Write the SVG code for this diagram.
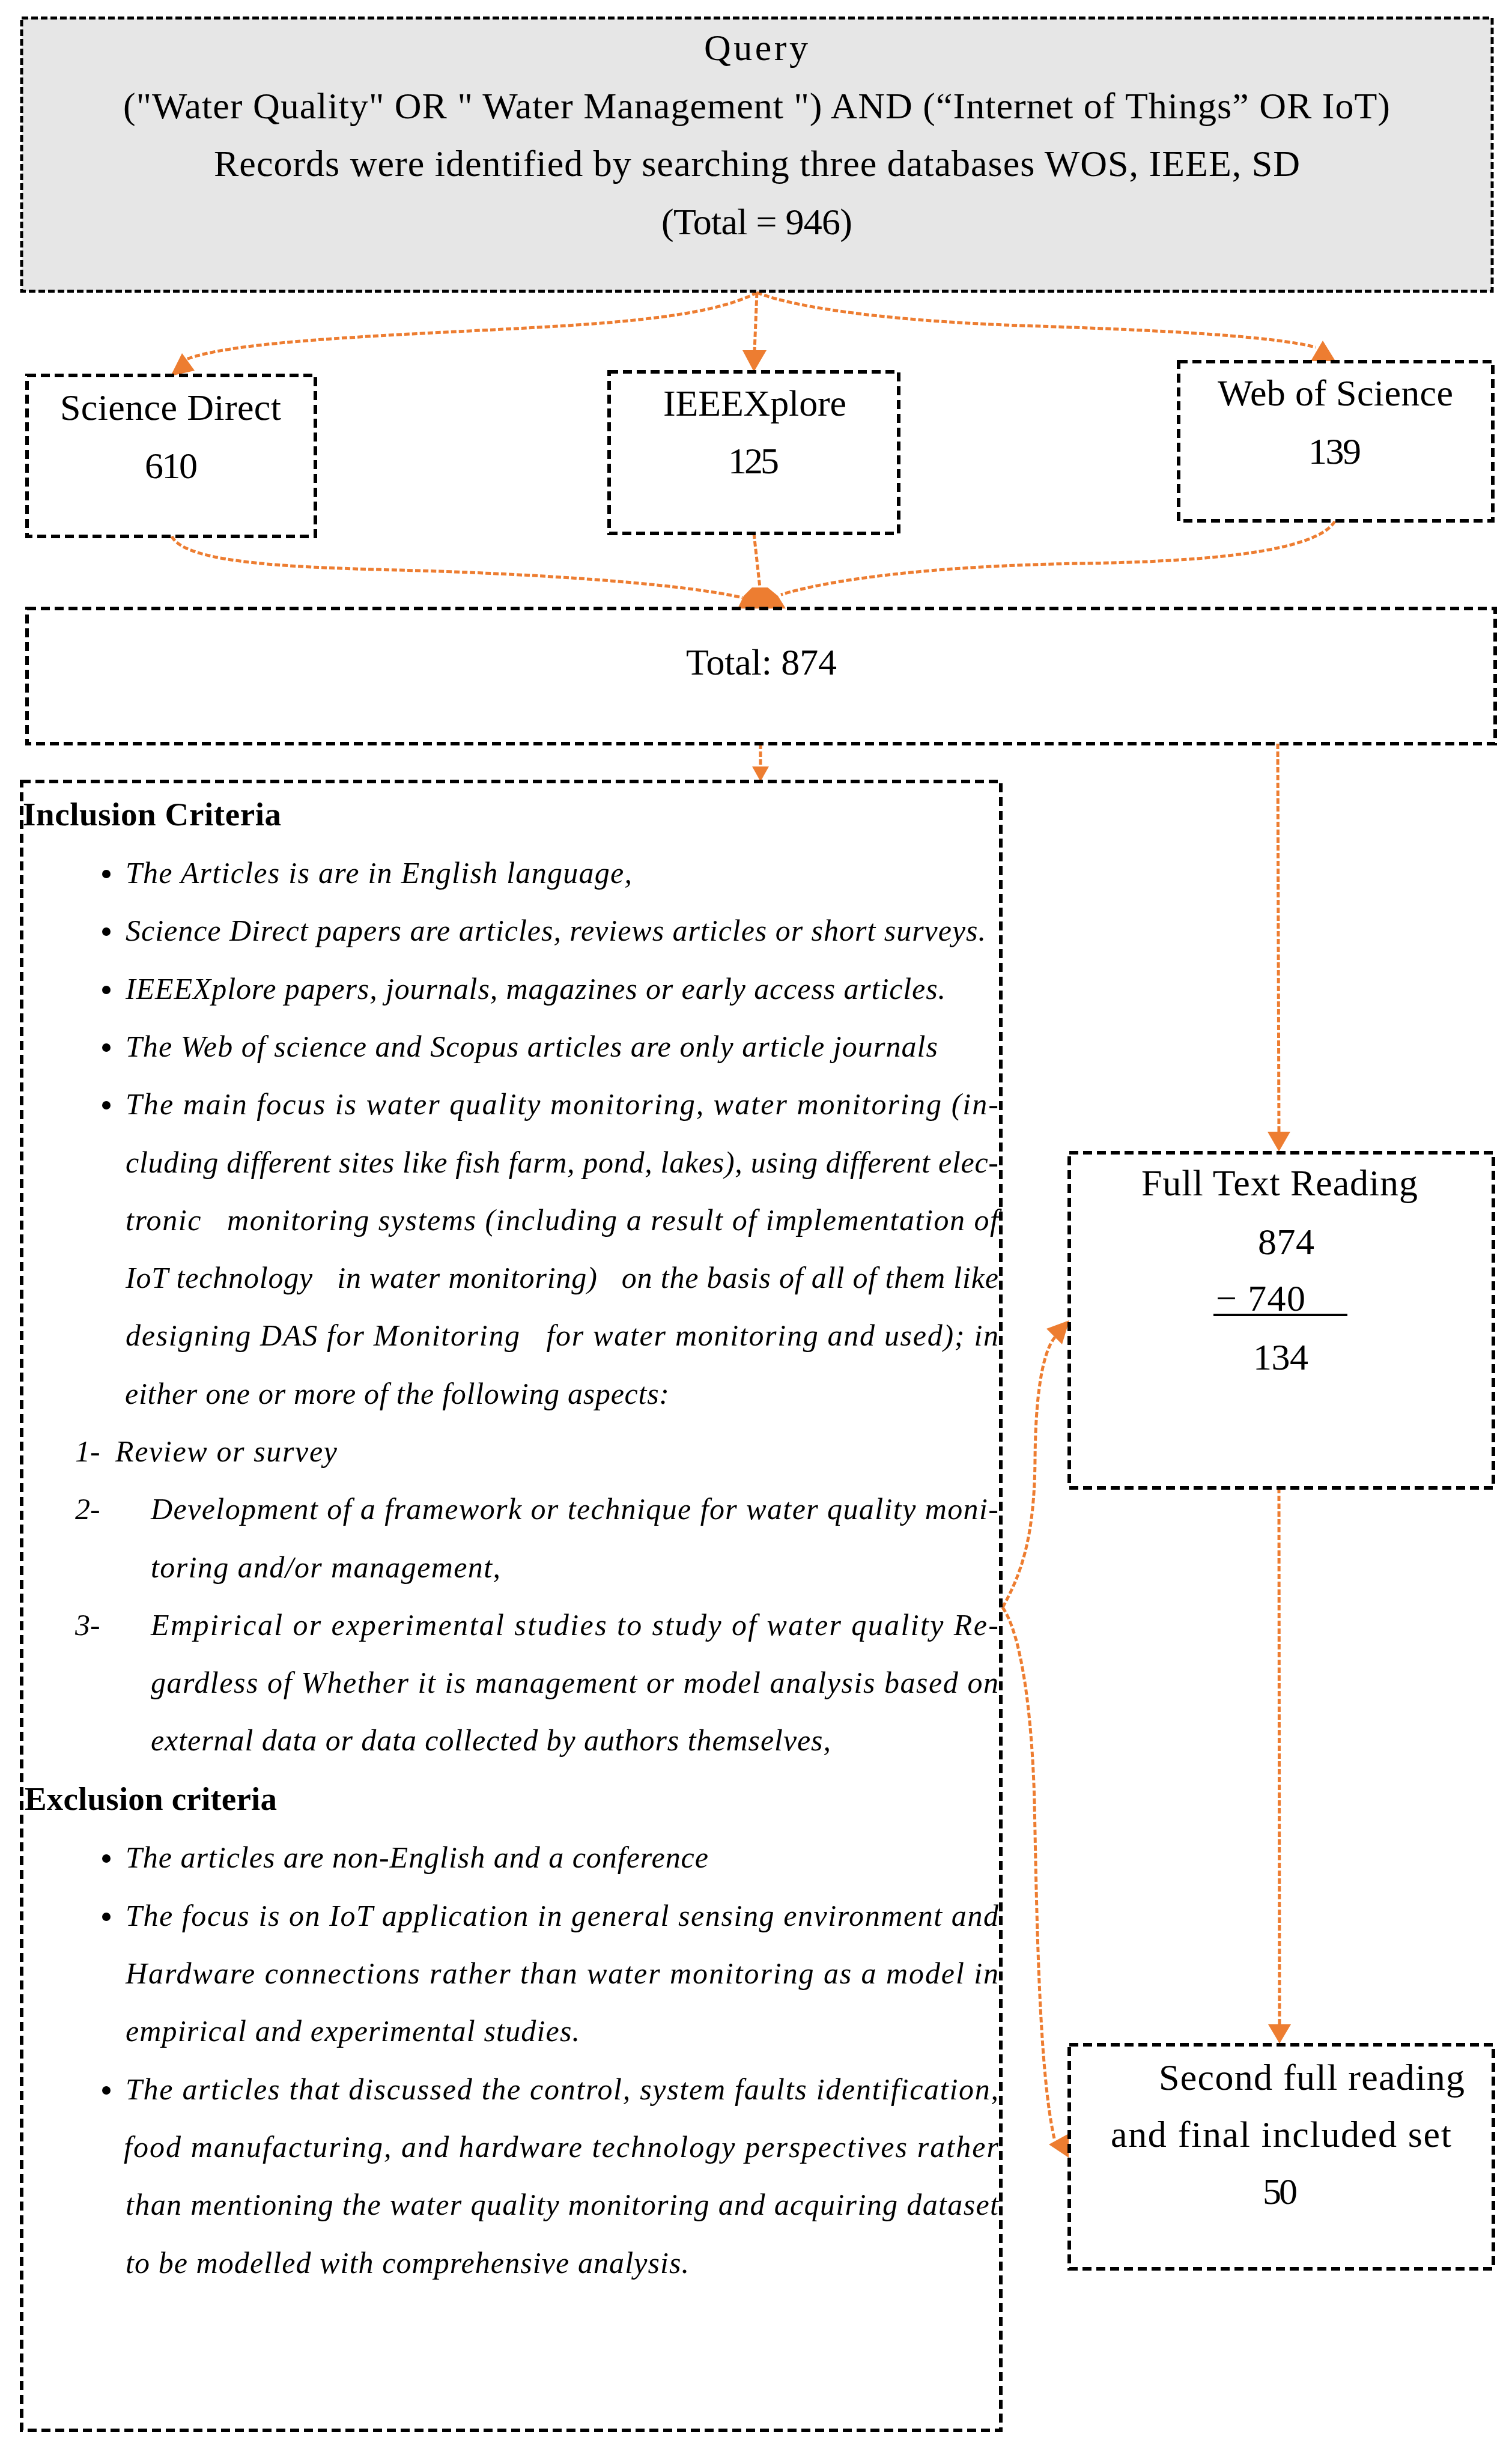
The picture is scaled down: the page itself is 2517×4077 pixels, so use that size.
<svg xmlns="http://www.w3.org/2000/svg" width="2517" height="4077" viewBox="0 0 2517 4077">
<style>
.box{fill:none;stroke:#000;stroke-width:6;stroke-dasharray:15 8}
.qbox{fill:#e6e6e6;stroke:#000;stroke-width:5;stroke-dasharray:11 5}
.con{fill:none;stroke:#ED7D31;stroke-width:5;stroke-dasharray:9 4}
.ah{fill:#ED7D31;stroke:none}
.t{font-family:"Liberation Serif",serif;font-size:62px;fill:#000}
.it{font-family:"Liberation Serif",serif;font-style:italic;font-size:50px;fill:#000;white-space:pre}
.hd{font-family:"Liberation Serif",serif;font-weight:bold;font-size:55px;fill:#000}
.bul{fill:#000}
</style>
<rect width="2517" height="4077" fill="#fff"/>
<g id="connectors">
<path class="con" d="M1260,487 C1180,530 1000,540 800,550 C560,562 380,572 310,598"/>
<polygon class="ah" points="303,588 284,626 324,617"/>
<path class="con" d="M1260,487 L1256,585"/>
<polygon class="ah" points="1236,583 1276,583 1255,619"/>
<path class="con" d="M1260,487 C1330,515 1500,535 1700,542 C1950,550 2120,560 2190,578"/>
<polygon class="ah" points="2202,567 2182,601 2223,601"/>
<path class="con" d="M286,893 C310,940 500,945 700,950 C950,958 1150,975 1236,995"/>
<path class="con" d="M1255,888 L1265,978"/>
<path class="con" d="M2222,868 C2190,920 2000,935 1800,938 C1550,942 1380,965 1300,990"/>
<polygon class="ah" points="1228,1013 1308,1013 1295,992 1278,978 1252,978 1238,992"/>
<path class="con" d="M1266,1238 L1266,1278"/>
<polygon class="ah" points="1252,1276 1280,1276 1266,1301"/>
<path class="con" d="M2127,1238 L2129,1886"/>
<polygon class="ah" points="2110,1884 2148,1884 2129,1917"/>
<path class="con" d="M2129,2477 L2130,3372"/>
<polygon class="ah" points="2111,3370 2149,3370 2130,3402"/>
<path class="con" d="M1669,2676 C1700,2620 1722,2560 1723,2430 C1724,2300 1740,2240 1760,2222"/>
<polygon class="ah" points="1780,2198 1742,2212 1768,2238"/>
<path class="con" d="M1669,2676 C1700,2720 1718,2850 1722,3000 C1726,3200 1730,3450 1755,3560"/>
<polygon class="ah" points="1746,3570 1779,3552 1779,3592"/>
</g>
<g id="query">
<rect class="qbox" x="36" y="30" width="2448" height="455"/>
<text class="t" x="1172" y="100" textLength="173">Query</text>
<text class="t" x="205" y="197" textLength="2109">("Water Quality" OR " Water Management ") AND (“Internet of Things” OR IoT)</text>
<text class="t" x="356" y="293" textLength="1808">Records were identified by searching three databases WOS, IEEE, SD</text>
<text class="t" x="1101" y="390" textLength="318">(Total = 946)</text>
</g>
<g id="sciencedirect">
<rect class="box" x="45" y="625" width="480" height="268"/>
<text class="t" x="100" y="699" textLength="368">Science Direct</text>
<text class="t" x="241" y="796" textLength="88">610</text>
</g>
<g id="ieeexplore">
<rect class="box" x="1014" y="619" width="482" height="269"/>
<text class="t" x="1104" y="692" textLength="305">IEEEXplore</text>
<text class="t" x="1212" y="788" textLength="85">125</text>
</g>
<g id="webofscience">
<rect class="box" x="1962" y="602" width="523" height="265"/>
<text class="t" x="2027" y="675" textLength="392">Web of Science</text>
<text class="t" x="2178" y="772" textLength="88">139</text>
</g>
<g id="total">
<rect class="box" x="45" y="1013" width="2444" height="225"/>
<text class="t" x="1142" y="1123" textLength="251">Total: 874</text>
</g>
<g id="criteria">
<rect class="box" x="36" y="1301" width="1630" height="2745"/>
<text class="hd" x="38" y="1374" textLength="430">Inclusion Criteria</text>
<circle class="bul" cx="177" cy="1455" r="7"/>
<circle class="bul" cx="177" cy="1551" r="7"/>
<circle class="bul" cx="177" cy="1648" r="7"/>
<circle class="bul" cx="177" cy="1744" r="7"/>
<circle class="bul" cx="177" cy="1840" r="7"/>
<text class="it" x="209" y="1470" textLength="843">The Articles is are in English language,</text>
<text class="it" x="209" y="1566" textLength="1432">Science Direct papers are articles, reviews articles or short surveys.</text>
<text class="it" x="209" y="1663" textLength="1365">IEEEXplore papers, journals, magazines or early access articles.</text>
<text class="it" x="209" y="1759" textLength="1352">The Web of science and Scopus articles are only article journals</text>
<text class="it" x="209" y="1855" textLength="1453">The main focus is water quality monitoring, water monitoring (in-</text>
<text class="it" x="209" y="1952" textLength="1453">cluding different sites like fish farm, pond, lakes), using different elec-</text>
<text class="it" x="209" y="2048" textLength="1453">tronic   monitoring systems (including a result of implementation of</text>
<text class="it" x="209" y="2144" textLength="1453">IoT technology   in water monitoring)   on the basis of all of them like</text>
<text class="it" x="209" y="2240" textLength="1453">designing DAS for Monitoring   for water monitoring and used); in</text>
<text class="it" x="208" y="2337" textLength="906">either one or more of the following aspects:</text>
<text class="it" x="125" y="2433">1-</text>
<text class="it" x="192" y="2433" textLength="369">Review or survey</text>
<text class="it" x="125" y="2529">2-</text>
<text class="it" x="251" y="2529" textLength="1411">Development of a framework or technique for water quality moni-</text>
<text class="it" x="251" y="2626" textLength="582">toring and/or management,</text>
<text class="it" x="125" y="2722">3-</text>
<text class="it" x="251" y="2722" textLength="1411">Empirical or experimental studies to study of water quality Re-</text>
<text class="it" x="251" y="2818" textLength="1411">gardless of Whether it is management or model analysis based on</text>
<text class="it" x="251" y="2914" textLength="1132">external data or data collected by authors themselves,</text>
<text class="hd" x="41" y="3013" textLength="420">Exclusion criteria</text>
<circle class="bul" cx="177" cy="3094" r="7"/>
<circle class="bul" cx="177" cy="3191" r="7"/>
<circle class="bul" cx="177" cy="3480" r="7"/>
<text class="it" x="209" y="3109" textLength="970">The articles are non-English and a conference</text>
<text class="it" x="209" y="3206" textLength="1453">The focus is on IoT application in general sensing environment and</text>
<text class="it" x="209" y="3302" textLength="1453">Hardware connections rather than water monitoring as a model in</text>
<text class="it" x="209" y="3398" textLength="756">empirical and experimental studies.</text>
<text class="it" x="209" y="3495" textLength="1453">The articles that discussed the control, system faults identification,</text>
<text class="it" x="206" y="3591" textLength="1456">food manufacturing, and hardware technology perspectives rather</text>
<text class="it" x="209" y="3687" textLength="1453">than mentioning the water quality monitoring and acquiring dataset</text>
<text class="it" x="209" y="3784" textLength="938">to be modelled with comprehensive analysis.</text>
</g>
<g id="fulltext">
<rect class="box" x="1780" y="1919" width="706" height="558"/>
<text class="t" x="1900" y="1990" textLength="460">Full Text Reading</text>
<text class="t" x="2094" y="2088" textLength="94">874</text>
<text class="t" x="2024" y="2182" textLength="149">− 740</text>
<line x1="2020" y1="2189" x2="2243" y2="2189" stroke="#000" stroke-width="4"/>
<text class="t" x="2086" y="2280" textLength="92">134</text>
</g>
<g id="final">
<rect class="box" x="1780" y="3404" width="706" height="373"/>
<text class="t" x="1929" y="3479" textLength="509">Second full reading</text>
<text class="t" x="1849" y="3574" textLength="567">and final included set</text>
<text class="t" x="2102" y="3669" textLength="58">50</text>
</g>
</svg>
